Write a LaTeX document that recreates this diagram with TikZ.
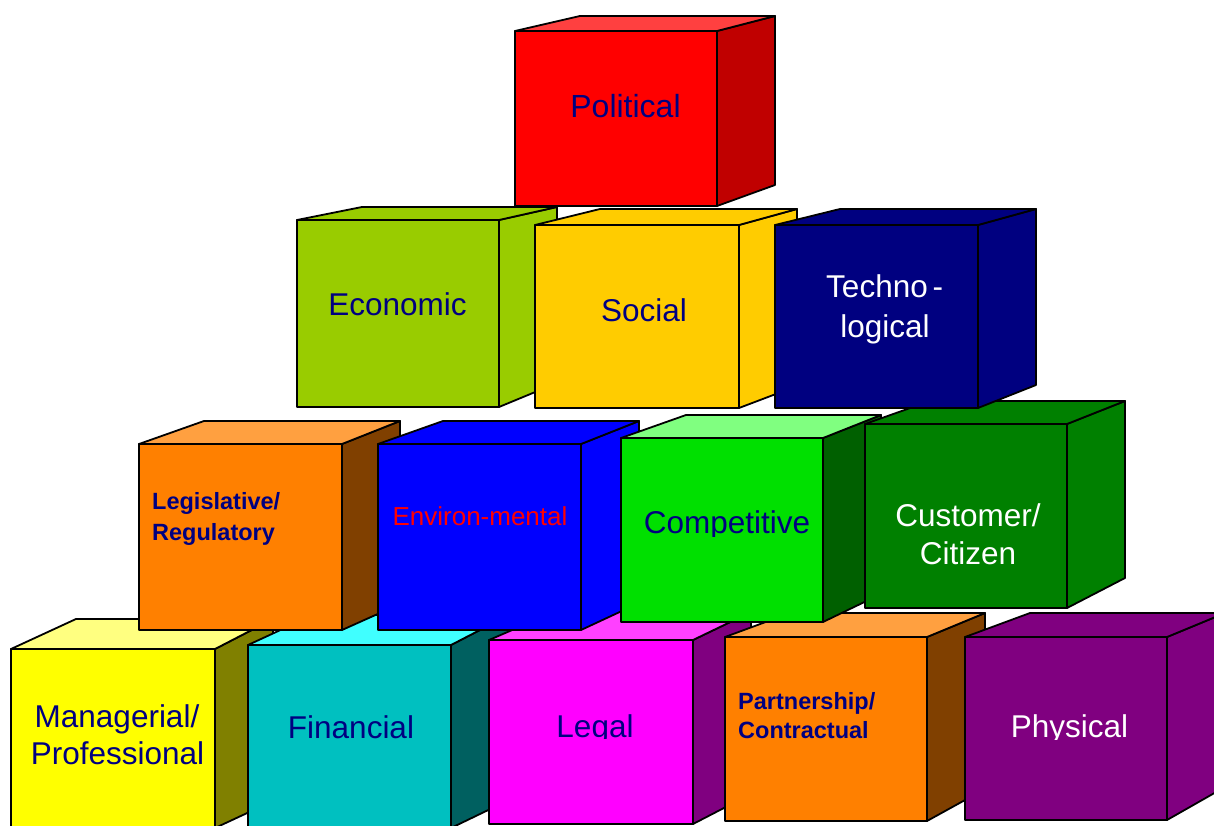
\documentclass[tikz,border=0pt]{standalone}
\usepackage{fontspec}
\setmainfont{Liberation Sans}
\definecolor{navytxt}{HTML}{000080}
\definecolor{polF}{HTML}{FF0000}\definecolor{polT}{HTML}{FF4040}\definecolor{polS}{HTML}{C00000}
\definecolor{ecoF}{HTML}{99CC00}
\definecolor{socF}{HTML}{FFCC00}
\definecolor{tecF}{HTML}{000080}
\definecolor{oraF}{HTML}{FF8000}\definecolor{oraT}{HTML}{FFA040}\definecolor{oraS}{HTML}{804000}
\definecolor{envF}{HTML}{0000FF}
\definecolor{comF}{HTML}{00E000}\definecolor{comT}{HTML}{80FF80}\definecolor{comS}{HTML}{006000}
\definecolor{cusF}{HTML}{008000}
\definecolor{manF}{HTML}{FFFF00}\definecolor{manT}{HTML}{FFFF80}\definecolor{manS}{HTML}{808000}
\definecolor{finF}{HTML}{00C0C0}\definecolor{finT}{HTML}{40FFFF}\definecolor{finS}{HTML}{006060}
\definecolor{legF}{HTML}{FF00FF}\definecolor{legT}{HTML}{FF40FF}\definecolor{legS}{HTML}{800080}
\definecolor{phyF}{HTML}{800080}
\tikzset{
  cubeedge/.style={draw=black, line width=1.8pt, line join=round},
  lbl/.style={anchor=base, inner sep=0pt, font=\fontsize{31.5}{37}\selectfont, text=navytxt},
  lblw/.style={lbl, text=white},
  lblb/.style={anchor=base west, inner sep=0pt, font=\fontsize{23.5}{28}\selectfont\bfseries, text=navytxt},
  lblr/.style={anchor=base, inner sep=0pt, font=\fontsize{26}{31}\selectfont, text=red},
}
% x0 y0 x1 y1 topdepth bottomdepth front top side
\newcommand{\drawcube}[9]{%
  \filldraw[cubeedge, fill=#9] (#3,#2) -- (#3+58,#2-#5) -- (#3+58,#4-#6) -- (#3,#4) -- cycle;
  \filldraw[cubeedge, fill=#8] (#1,#2) -- (#1+65,#2-#5) -- (#3+58,#2-#5) -- (#3,#2) -- cycle;
  \filldraw[cubeedge, fill=#7] (#1,#2) rectangle (#3,#4);
}
\begin{document}
\begin{tikzpicture}[x=1pt,y=-1pt]
\useasboundingbox (0,0) rectangle (1214,826);
\fill[white] (0,0) rectangle (1214,826);
\clip (0,0) rectangle (1214,826);
% bottom row
\drawcube{11}{649}{215}{828}{30}{27}{manF}{manT}{manS}
\drawcube{248}{645}{451}{828}{30}{28}{finF}{finT}{finS}
\drawcube{489}{640}{693}{824}{28}{30}{legF}{legT}{legS}
\drawcube{725}{637}{927}{821}{24}{32}{oraF}{oraT}{oraS}
\drawcube{965}{637}{1167}{820}{24}{33}{phyF}{phyF}{phyF}
% third row
\drawcube{139}{444}{342}{630}{23}{26}{oraF}{oraT}{oraS}
\drawcube{378}{444}{581}{630}{23}{27}{envF}{envF}{envF}
\drawcube{621}{438}{823}{622}{23}{28}{comF}{comT}{comS}
\drawcube{865}{424}{1067}{608}{23}{30}{cusF}{cusF}{cusF}
% second row
\drawcube{297}{220}{499}{407}{13}{24}{ecoF}{ecoF}{ecoF}
\drawcube{535}{225}{739}{408}{16}{22}{socF}{socF}{socF}
\drawcube{775}{225}{978}{408}{16}{23}{tecF}{tecF}{tecF}
% top
\drawcube{515}{31}{717}{206}{15}{21}{polF}{polT}{polS}
% labels
\node[lbl, font=\fontsize{32}{37}\selectfont] (pol) at (625.5,118) {Political};
\node[lbl] (eco) at (397.5,315) {Economic};
\node[lbl] (soc) at (644,321) {Social};
\node[lblw, anchor=base west] (tec1) at (826,297) {Techno\kern5pt-};
\node[lblw] (tec2) at (885,337) {logical};
\node[lblb] (leg1) at (152,509) {Legislative/};
\node[lblb] (leg2) at (152,540) {Regulatory};
\node[lblr] (env) at (480,525) {Environ-mental};
\begin{scope}
  \clip (621,438) rectangle (823,536);
  \node[lbl] (com) at (727,533) {Competitive};
\end{scope}
\node[lblw] (cus1) at (968,526) {Customer/};
\node[lblw] (cus2) at (968,564) {Citizen};
\node[lbl] (man1) at (117,727) {Managerial/};
\node[lbl] (man2) at (117.5,764) {Professional};
\node[lbl] (fin) at (351,738) {Financial};
\begin{scope}
  \clip (489,640) rectangle (693,738.5);
  \node[lbl] (lgl) at (595,737) {Legal};
\end{scope}
\node[lblb] (par1) at (738,709) {Partnership/};
\node[lblb] (par2) at (738,738) {Contractual};
\begin{scope}
  \clip (965,637) rectangle (1167,739);
  \node[lblw] (phy) at (1069.5,737) {Physical};
\end{scope}
\end{tikzpicture}
\end{document}
